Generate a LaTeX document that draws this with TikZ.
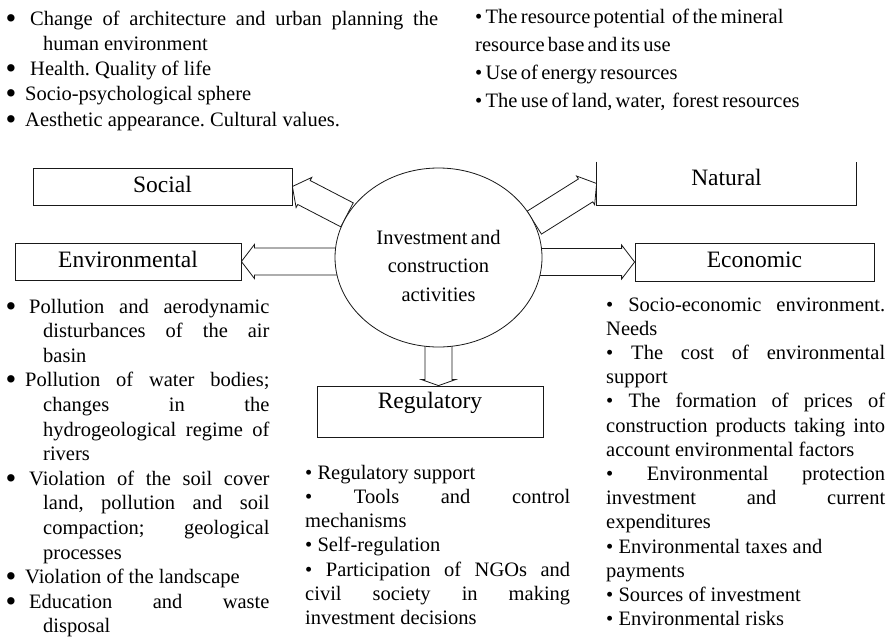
\documentclass[tikz,border=0pt]{standalone}
\usepackage{fontspec}
\setmainfont{Liberation Serif}
\usepackage{graphicx}
\usetikzlibrary{shapes.geometric,calc,backgrounds}
\tikzset{
  Factor/.style={rectangle, draw=black!90, fill=white, line width=0.8pt, inner sep=0pt, minimum height=37, text depth=5pt, font=\fontsize{23.5}{28}\selectfont},
  Hub/.style={ellipse, draw=black!90, fill=white, line width=0.8pt, inner sep=0pt, minimum width=207, minimum height=179, text width=136, align=center, execute at begin node={\fontsize{20.5}{28.5}\selectfont}},
  Notes/.style={anchor=base west, inner sep=0pt, align=justify, execute at begin node={\fontsize{20.5}{#1}\selectfont}},
  Fat/.style={draw=black!90, fill=white, line width=0.8pt, line join=miter}
}
% list items: big bullet with hanging indent, small inline bullet
\newcommand{\bigbul}[1][24.5pt]{\hangindent=37.5pt\hangafter=1\noindent\makebox[#1][l]{\raisebox{-3pt}{\scalebox{1.5}{\textbullet}}}\ignorespaces}
\newcommand{\smbul}{\noindent\textbullet\ }
\newcommand{\fatarrow}[3][13pt]{%
  \coordinate (fa1) at (#2);
  \coordinate (fa2) at (#3);
  \coordinate (fah) at ($(fa2)!#1!(fa1)$);
  \draw[Fat] ($(fa1)!13.5pt!90:(fa2)$) -- ($(fah)!13.5pt!-90:(fa1)$) -- ($(fah)!17pt!-90:(fa1)$) -- (fa2)
    -- ($(fah)!17pt!90:(fa1)$) -- ($(fah)!13.5pt!90:(fa1)$) -- ($(fa1)!13.5pt!-90:(fa2)$) -- cycle;}
\frenchspacing

\begin{document}
\begin{tikzpicture}[x=1pt,y=-1pt]
    \useasboundingbox (0,0) rectangle (890,640);
    \path
    (438.5,257.5) node[Hub] (hub) {\rule{0pt}{31pt}Investment and\\construction\\activities}
    (162.5,186.5) node[Factor, minimum width=259] (social) {Social}
    (128,261.5) node[Factor, minimum width=226] (env) {Environmental}
    (726.5,183.5) node[Factor, draw=none, minimum width=259, minimum height=43, text depth=12pt] (natural) {Natural}
    (754.5,262) node[Factor, minimum width=239, minimum height=38] (eco) {Economic}
    (430,411.5) node[Factor, minimum width=226, minimum height=51, text depth=22pt] (reg) {Regulatory};

    % open-topped box
    \draw[line width=0.8pt, black!90] (natural.north west) -- (natural.south west) -- (natural.south east) -- (natural.north east);

    \begin{scope}[on background layer]
    \fatarrow{env.east -| hub.center}{env.east}
    \fatarrow{eco.west -| hub.center}{eco.west}
    \fatarrow{hub.155}{social.east}
    \fatarrow{hub.20}{natural.west}
    \fatarrow[6pt]{hub.center}{hub.center |- reg.north}
    \end{scope}

    \path
    (5.5,25) node[Notes=25.3, text width=432.5] (socnotes) {%
      \bigbul Change of architecture and urban planning the\linebreak human environment\par
      \bigbul Health. Quality of life\par
      \bigbul[19.5pt] Socio-psychological sphere\par
      \bigbul[19.5pt] Aesthetic appearance. Cultural values.\par}
    (475,23) node[Notes=28, text width=410, align=left] (natnotes) {%
      \textbullet{} The resource potential\ \ of the mineral\\resource base and its use\\
      \textbullet{} Use of energy resources\\
      \textbullet{} The use of land, water,\ \ forest resources};

    \path
    (5.5,313) node[Notes=24.6, text width=263.8] (envnotes) {%
      \bigbul[23.5pt] Pollution and aerodynamic\linebreak disturbances of the air\linebreak basin\par
      \bigbul[19.5pt] Pollution of water bodies;\linebreak changes in the\linebreak hydrogeological regime of\linebreak rivers\par
      \bigbul[23.5pt] Violation of the soil cover\linebreak land, pollution and soil\linebreak compaction; geological\linebreak processes\par
      \bigbul[19.5pt] Violation of the landscape\par
      \bigbul[23.5pt] Education and waste\linebreak disposal\par}
    (305,479) node[Notes=24.3, text width=265] (regnotes) {%
      \smbul Regulatory support\par
      \smbul Tools and control\linebreak mechanisms\par
      \smbul Self-regulation\par
      \smbul Participation of NGOs and\linebreak civil society in making\linebreak investment decisions\par}
    (606,311) node[Notes=24.2, text width=279] (econotes) {%
      \smbul Socio-economic environment.\linebreak Needs\par
      \smbul The cost of environmental\linebreak support\par
      \smbul The formation of prices of\linebreak construction products taking into\linebreak account environmental factors\par
      \smbul Environmental protection\linebreak investment and current\linebreak expenditures\par
      \smbul Environmental taxes and\\payments\par
      \smbul Sources of investment\par
      \smbul Environmental risks\par};
\end{tikzpicture}
\end{document}
